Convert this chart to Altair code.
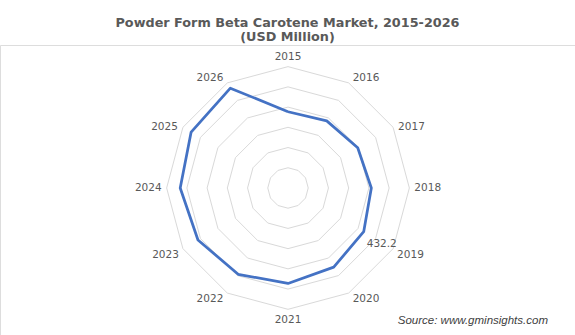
import numpy as np
import pandas as pd
import altair as alt

# ---- data ----
years = ["2015", "2016", "2017", "2018", "2019", "2020",
         "2021", "2022", "2023", "2024", "2025", "2026"]
values = [377, 383, 398, 412, 432.2, 452, 472, 493, 514, 533, 553, 570]
ring_levels = [100, 200, 300, 400, 500, 600]
labelled_year = "2019"
title_lines = ["Powder Form Beta Carotene Market, 2015-2026", "(USD Million)"]
source_text = "Source: www.gminsights.com"

LINE_COLOR = "#4472C4"
GRID_COLOR = "#D9D9D9"
TEXT_COLOR = "#595959"

n = len(years)
angles = np.arange(n) * 2 * np.pi / n  # clockwise from top
outer = max(ring_levels)

# series polygon (closed)
idx = list(range(n)) + [0]
series = pd.DataFrame({
    "order": range(n + 1),
    "year": [years[i] for i in idx],
    "value": [values[i] for i in idx],
    "angle": [angles[i] for i in idx],
})
series["x"] = series["value"] * np.sin(series["angle"])
series["y"] = series["value"] * np.cos(series["angle"])

# grid rings
rows = []
for lvl in ring_levels:
    for k, i in enumerate(idx):
        rows.append({"level": lvl, "order": k,
                     "x": lvl * np.sin(angles[i]), "y": lvl * np.cos(angles[i])})
rings = pd.DataFrame(rows)

# category labels anchored at the outer ring vertices
lab = pd.DataFrame({"year": years, "angle": angles})
lab["x"] = outer * np.sin(lab["angle"])
lab["y"] = outer * np.cos(lab["angle"])
s = np.sin(lab["angle"]); c = np.cos(lab["angle"])
lab["align"] = np.where(s > 0.01, "left", np.where(s < -0.01, "right", "center"))
lab["baseline"] = np.where(c > 0.6, "bottom", np.where(c > -0.01, "middle", "top"))

X_DOMAIN = [-1424, 1419]
Y_DOMAIN = [-727, 707]
xs = alt.Scale(domain=X_DOMAIN, nice=False, zero=False)
ys = alt.Scale(domain=Y_DOMAIN, nice=False, zero=False)
X = alt.X("x:Q", scale=xs, axis=None)
Y = alt.Y("y:Q", scale=ys, axis=None)

ring_layer = alt.Chart(rings).mark_line(color=GRID_COLOR, strokeWidth=1).encode(
    x=X, y=Y, detail="level:N", order="order:Q")

line_layer = alt.Chart(series).mark_line(
    color=LINE_COLOR, strokeWidth=2.75, strokeJoin="round").encode(
    x=X, y=Y, order="order:Q")

offsets = {
    ("center", "bottom"): (0, -5), ("center", "top"): (0, 6),
    ("left", "bottom"): (4, 0), ("left", "middle"): (5, 0), ("left", "top"): (4, 1),
    ("right", "bottom"): (-4, 0), ("right", "middle"): (-5, 0), ("right", "top"): (-4, 1),
}
label_layers = []
for (al, bl), (dx, dy) in offsets.items():
    sub = lab[(lab["align"] == al) & (lab["baseline"] == bl)]
    if len(sub) == 0:
        continue
    label_layers.append(
        alt.Chart(sub).mark_text(align=al, baseline=bl, dx=dx, dy=dy,
                                 font="DejaVu Sans", fontSize=10.5, color=TEXT_COLOR)
        .encode(x=X, y=Y, text="year:N"))

value_label = alt.Chart(series[series["order"] < n]).transform_filter(
    alt.datum.year == labelled_year).mark_text(
    align="left", baseline="top", dx=3, dy=7,
    font="DejaVu Sans", fontSize=10.5, color=TEXT_COLOR).encode(
    x=X, y=Y, text="value:Q")

source_layer = alt.Chart(pd.DataFrame({"t": [source_text]})).mark_text(
    align="right", baseline="middle", font="Liberation Sans", fontStyle="italic",
    fontSize=11.5, color="#404040").encode(
    x=alt.value(548), y=alt.value(276), text="t:N")

chart = alt.layer(ring_layer, line_layer, *label_layers, value_label, source_layer).properties(
    width=575, height=290,
    title=alt.TitleParams(text=title_lines, font="DejaVu Sans", fontSize=12.8,
                          fontWeight="bold", color=TEXT_COLOR, anchor="middle",
                          lineHeight=14.5, offset=1),
    autosize=alt.AutoSizeParams(type="none"),
    padding={"left": 0, "right": 0, "top": 45, "bottom": 0},
).configure_view(stroke=None).configure(background="white")

chart.save("out.html", embed_options={"renderer": "svg", "actions": False})
